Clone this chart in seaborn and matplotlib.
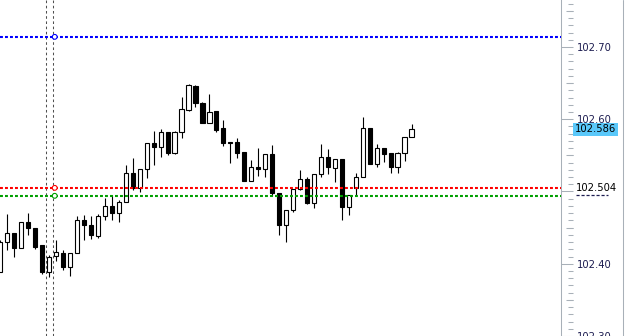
import numpy as np
import pandas as pd
import matplotlib
matplotlib.use("Agg")
import matplotlib.pyplot as plt
import seaborn as sns
from matplotlib.lines import Line2D
from matplotlib.ticker import FixedLocator, FixedFormatter, MultipleLocator

# ---- data ----
opens = [102.389, 102.430, 102.443, 102.422, 102.458, 102.450, 102.426, 102.389, 102.411, 102.415,
         102.396, 102.415, 102.461, 102.454, 102.439, 102.466, 102.480, 102.470, 102.486, 102.526,
         102.505, 102.531, 102.567, 102.562, 102.582, 102.553, 102.582, 102.613, 102.646, 102.623,
         102.595, 102.611, 102.588, 102.569, 102.569, 102.555, 102.515, 102.534, 102.531, 102.552,
         102.498, 102.454, 102.475, 102.504, 102.517, 102.484, 102.524, 102.548, 102.533, 102.545,
         102.479, 102.505, 102.520, 102.588, 102.538, 102.560, 102.553, 102.534, 102.553, 102.576]
highs = [102.433, 102.469, 102.443, 102.458, 102.470, 102.450, 102.426, 102.412, 102.433, 102.419,
         102.415, 102.466, 102.468, 102.466, 102.469, 102.491, 102.495, 102.488, 102.537, 102.546,
         102.531, 102.567, 102.584, 102.587, 102.582, 102.584, 102.631, 102.649, 102.647, 102.624,
         102.635, 102.611, 102.599, 102.569, 102.574, 102.555, 102.544, 102.560, 102.552, 102.564,
         102.498, 102.475, 102.504, 102.530, 102.520, 102.524, 102.566, 102.559, 102.545, 102.545,
         102.495, 102.526, 102.603, 102.588, 102.566, 102.560, 102.553, 102.555, 102.576, 102.593]
lows = [102.389, 102.419, 102.410, 102.422, 102.440, 102.421, 102.386, 102.382, 102.404, 102.392,
        102.383, 102.415, 102.433, 102.434, 102.436, 102.461, 102.461, 102.458, 102.486, 102.502,
        102.499, 102.519, 102.537, 102.548, 102.551, 102.552, 102.574, 102.611, 102.617, 102.595,
        102.595, 102.583, 102.563, 102.540, 102.546, 102.515, 102.515, 102.522, 102.520, 102.494,
        102.440, 102.430, 102.472, 102.502, 102.483, 102.477, 102.520, 102.524, 102.513, 102.461,
        102.468, 102.495, 102.520, 102.538, 102.534, 102.541, 102.526, 102.526, 102.542, 102.576]
closes = [102.430, 102.443, 102.422, 102.458, 102.450, 102.423, 102.389, 102.410, 102.416, 102.396,
          102.415, 102.461, 102.454, 102.440, 102.466, 102.480, 102.470, 102.486, 102.526, 102.505,
          102.531, 102.567, 102.562, 102.582, 102.553, 102.583, 102.614, 102.647, 102.623, 102.595,
          102.610, 102.585, 102.567, 102.567, 102.553, 102.515, 102.534, 102.531, 102.552, 102.498,
          102.454, 102.475, 102.504, 102.517, 102.484, 102.524, 102.548, 102.534, 102.545, 102.479,
          102.495, 102.520, 102.588, 102.538, 102.560, 102.552, 102.534, 102.553, 102.576, 102.586]

level_prices = [102.714, 102.505, 102.494]
level_colors = ["#0000ff", "#ff0000", "#00a000"]
vline_positions = [6.55, 7.5]
tick_values = [102.30, 102.40, 102.50, 102.60, 102.70]
tick_labels = ["102.30", "102.40", "", "102.60", "102.70"]
last_price_label = "102.586"
red_label = "102.504"

# ---- style ----
sns.set_theme(style="white")
plt.rcParams["font.family"] = ["DejaVu Sans"]

df = pd.DataFrame({"open": opens, "high": highs, "low": lows, "close": closes})
df["idx"] = np.arange(len(df))
df["bull"] = df["close"] >= df["open"]
df["bottom"] = df[["open", "close"]].min(axis=1)
df["height"] = (df["close"] - df["open"]).abs().clip(lower=0.0008)

fig = plt.figure(figsize=(6.25, 3.36), dpi=100)
fig.patch.set_facecolor("white")
ax = fig.add_axes([0, 0, 561 / 625, 1])
ax.set_facecolor("white")

ylim = (102.300, 102.765)
ax.set_ylim(ylim)
ax.set_xlim(-0.05, 80.45)

# vertical dotted lines
for xv in vline_positions:
    ax.axvline(xv, color="#505050", lw=0.75, ls=(0, (2.5, 2.5)), zorder=1)

# wicks
ax.vlines(df["idx"], df["low"], df["high"], color="black", lw=0.8, zorder=2)
# bodies
ax.bar(df["idx"], df["height"], bottom=df["bottom"], width=0.6,
       color=np.where(df["bull"], "white", "black"), edgecolor="black",
       linewidth=0.8, zorder=3)

# horizontal level lines
for p, c in zip(level_prices, level_colors):
    ax.axhline(p, color=c, lw=1.5, ls=(0, (1.4, 1.0)), zorder=5)
anchors = pd.DataFrame({"x": [7.8] * 3, "y": level_prices, "c": level_colors})
sns.scatterplot(data=anchors, x="x", y="y", ax=ax, marker="o", s=12,
                facecolor="white", edgecolor=level_colors, linewidth=0.8, zorder=6, legend=False)

ax.set_xticks([])
ax.set_yticks([])
ax.set_xlabel("")
ax.set_ylabel("")
for side in ["top", "left", "bottom"]:
    ax.spines[side].set_visible(False)
ax.spines["right"].set_visible(True)
ax.spines["right"].set_color("#a8b0b8")
ax.spines["right"].set_linewidth(0.75)

# tick axis (ticks end 12 px right of the price axis line)
tick_col = "#a8b0b8"
lab_col = "#1c1c50"
ax2 = ax.twinx()
ax2.set_ylim(ylim)
for s in ax2.spines.values():
    s.set_visible(False)
ax2.spines["right"].set_position(("outward", 8.64))
ax2.yaxis.set_major_locator(FixedLocator(tick_values))
ax2.yaxis.set_major_formatter(FixedFormatter(tick_labels))
ax2.yaxis.set_minor_locator(MultipleLocator(0.01))
ax2.tick_params(axis="y", which="major", direction="in", length=8.64, width=0.75,
                color=tick_col, labelcolor=lab_col, labelsize=7.2, pad=2.5)
ax2.tick_params(axis="y", which="minor", direction="in", length=3.6, width=0.75, color=tick_col)

ax3 = ax.twinx()
ax3.set_ylim(ylim)
for s in ax3.spines.values():
    s.set_visible(False)
ax3.spines["right"].set_position(("outward", 8.64))
ax3.yaxis.set_major_locator(FixedLocator([102.35, 102.45, 102.55, 102.65, 102.75]))
ax3.set_yticklabels([])
ax3.tick_params(axis="y", which="major", direction="in", length=5.0, width=0.75, color=tick_col)
ax3.tick_params(axis="y", which="minor", length=0)

# price labels at the right
tr = ax3.get_yaxis_transform()
ax3.text(575 / 561, float(closes[-1]), last_price_label, transform=tr, fontsize=7.2,
         color="black", va="center", ha="left", clip_on=False, zorder=10,
         bbox=dict(facecolor="#5ac8fa", edgecolor="none", pad=1.2))
ax3.text(576 / 561, level_prices[1], red_label, transform=tr, fontsize=7.2,
         color="black", va="center", ha="left", clip_on=False, zorder=10)
ax3.plot([576 / 561, 608 / 561], [102.4953, 102.4953], transform=tr, clip_on=False,
         color=lab_col, lw=0.9, ls=(0, (2.5, 1.5)))

# outer right border
fig.add_artist(Line2D([622.5 / 625, 622.5 / 625], [0, 1], transform=fig.transFigure,
                      color="#a8b0b8", lw=0.75))

fig.savefig("out.png", dpi=100, facecolor="white")
